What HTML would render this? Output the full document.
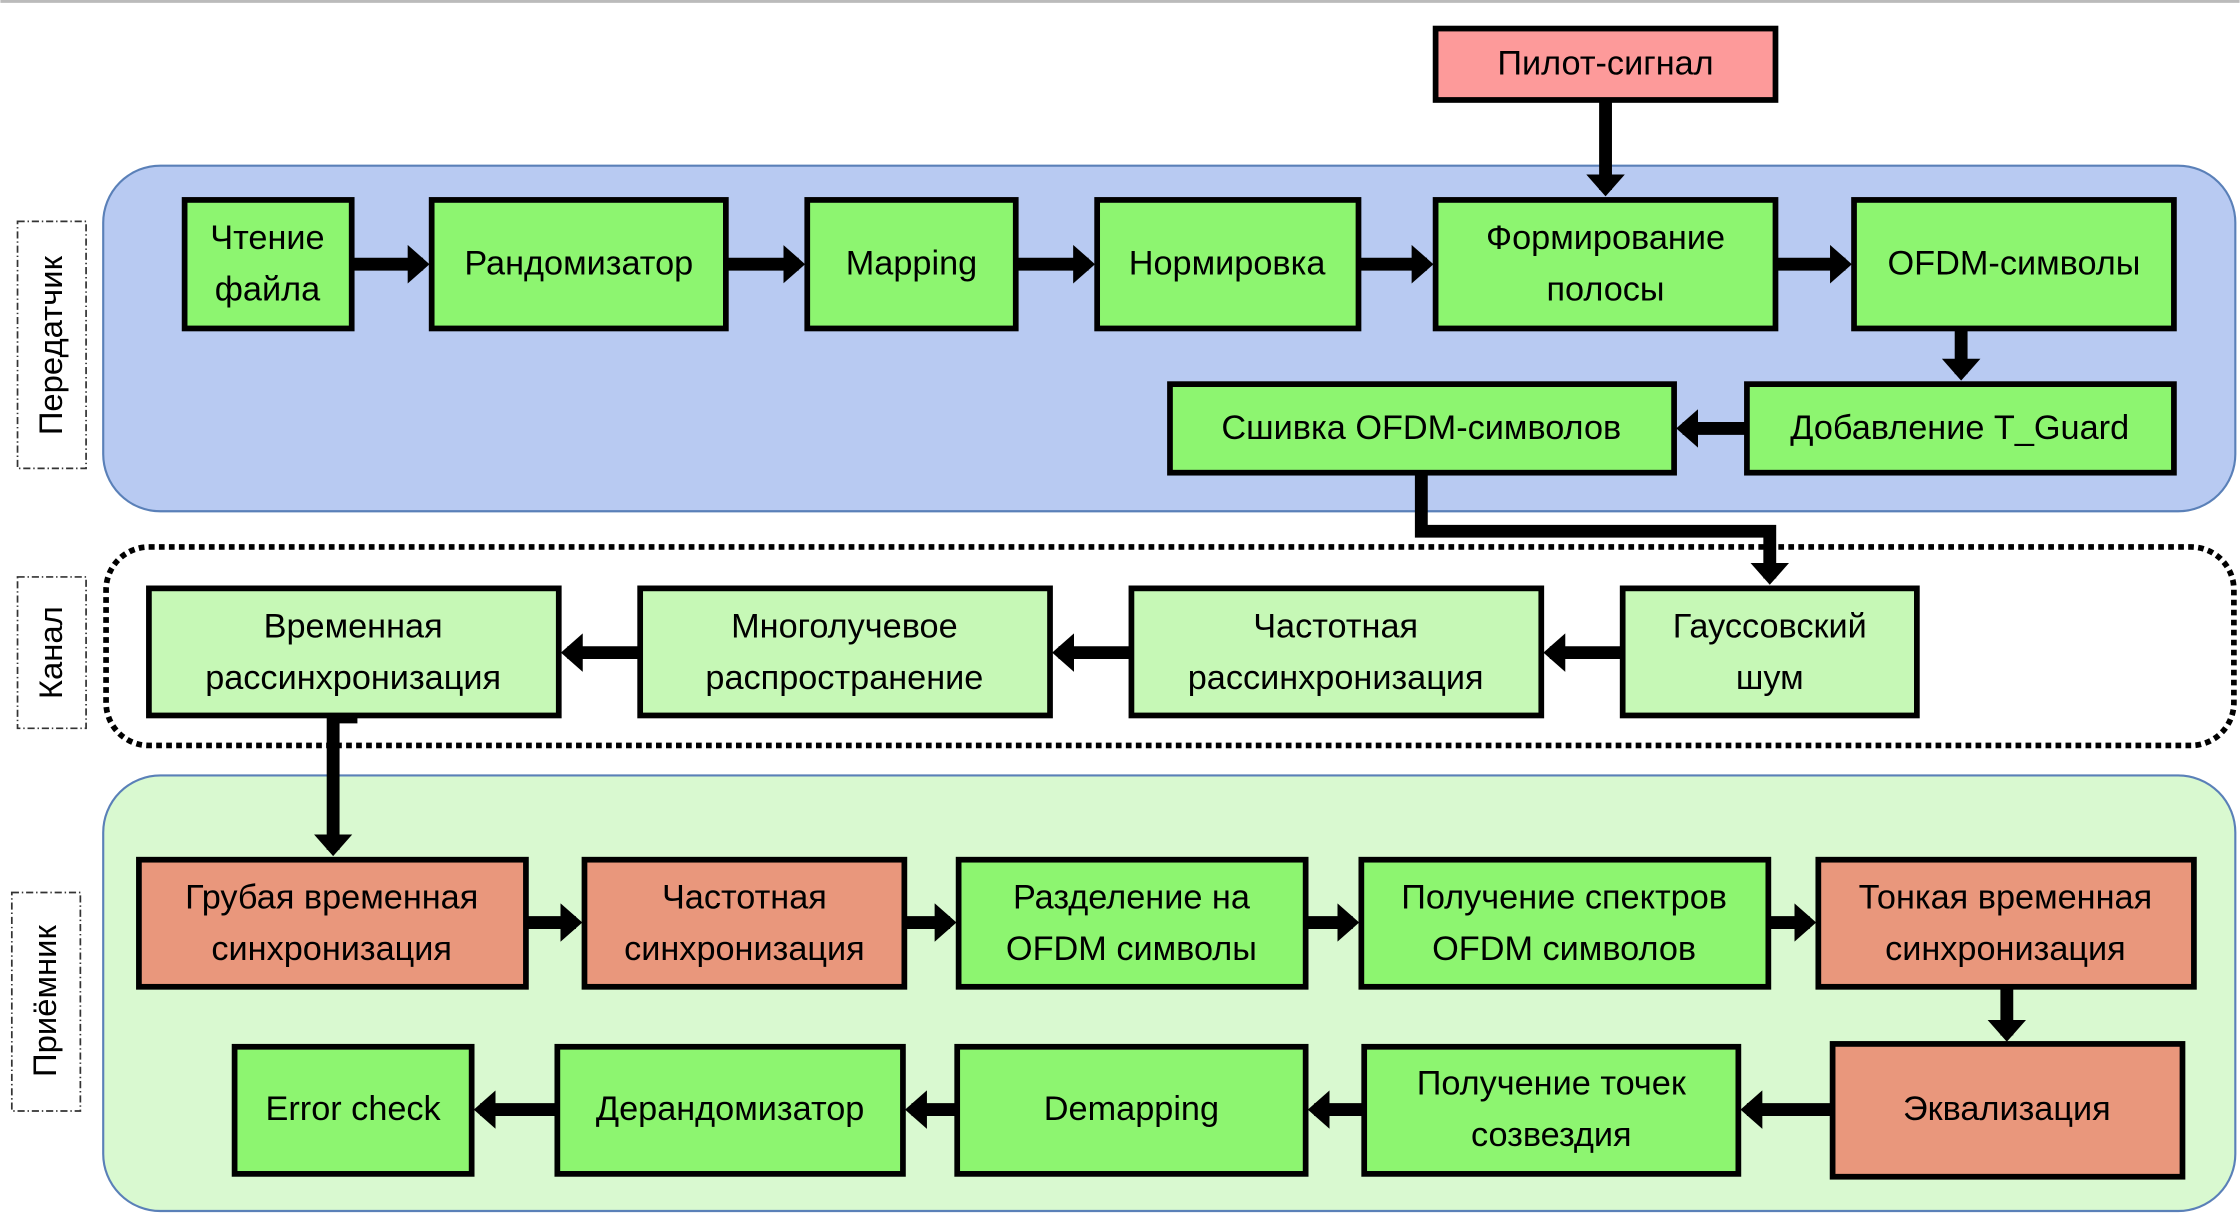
<!DOCTYPE html>
<html><head><meta charset="utf-8"><style>
html,body{margin:0;padding:0;background:#fff;}
svg{display:block}
text{font-family:"Liberation Sans","DejaVu Sans",sans-serif;font-size:24px;fill:#000;text-anchor:middle;dominant-baseline:middle}
.b{stroke:#000;stroke-width:4}
.g{fill:#8df570}.l{fill:#c6f8b6}.s{fill:#e9977c}.p{fill:#fd9a9a}
</style></head><body>
<svg width="2240" height="1221" viewBox="0 0 1568 855" xmlns="http://www.w3.org/2000/svg">
<defs>
<marker id="a" markerWidth="3" markerHeight="3" refX="1.2" refY="1.5" orient="auto" markerUnits="strokeWidth"><path d="M0,0 L1.7,1.5 L0,3z" fill="#000"/></marker>
</defs>
<rect x="0" y="0" width="1568" height="2" fill="#bbb"/>
<rect x="72" y="116" width="1493" height="242" rx="40" fill="#b8caf2" stroke="#5a80b8" stroke-width="1.5"/>
<rect x="74" y="383" width="1490" height="139" rx="30" fill="none" stroke="#000" stroke-width="4" stroke-dasharray="4,3"/>
<rect x="72" y="543" width="1493" height="305" rx="40" fill="#d9f9d0" stroke="#5a80b8" stroke-width="1.5"/>
<rect x="12" y="155" width="48" height="173" fill="none" stroke="#333" stroke-width="1.2" stroke-dasharray="5,2,1,2"/>
<text transform="translate(37,242) rotate(-90)" style="font-size:23px">Передатчик</text>
<rect x="12" y="404" width="48" height="106" fill="none" stroke="#333" stroke-width="1.2" stroke-dasharray="5,2,1,2"/>
<text transform="translate(37,457) rotate(-90)" style="font-size:23px">Канал</text>
<rect x="8" y="625" width="48" height="153" fill="none" stroke="#333" stroke-width="1.2" stroke-dasharray="5,2,1,2"/>
<text transform="translate(33,701) rotate(-90)" style="font-size:23px">Приёмник</text>
<g stroke="#000" stroke-width="9" fill="none" marker-end="url(#a)">
<line x1="1124" y1="70" x2="1124" y2="133"/>
<line x1="246" y1="185" x2="296" y2="185"/>
<line x1="508" y1="185" x2="559" y2="185"/>
<line x1="711" y1="185" x2="762" y2="185"/>
<line x1="951" y1="185" x2="999" y2="185"/>
<line x1="1243" y1="185" x2="1292" y2="185"/>
<line x1="1373" y1="230" x2="1373" y2="262"/>
<line x1="1223" y1="300" x2="1178" y2="300"/>
<polyline points="995,331 995,372 1239,372 1239,405"/>
<line x1="1136" y1="457" x2="1085" y2="457"/>
<line x1="792" y1="457" x2="741" y2="457"/>
<line x1="448" y1="457" x2="397" y2="457"/>
<line x1="233" y1="501" x2="233" y2="595"/>
<line x1="368" y1="646" x2="403" y2="646"/>
<line x1="633" y1="646" x2="665" y2="646"/>
<line x1="914" y1="646" x2="947" y2="646"/>
<line x1="1238" y1="646" x2="1267" y2="646"/>
<line x1="1405" y1="691" x2="1405" y2="725"/>
<line x1="1283" y1="777" x2="1223" y2="777"/>
<line x1="955" y1="777" x2="920" y2="777"/>
<line x1="670" y1="777" x2="638" y2="777"/>
<line x1="390" y1="777" x2="336" y2="777"/>
</g>
<line x1="233" y1="504" x2="250" y2="504" stroke="#000" stroke-width="5"/>
<g class="b">
<rect class="p" x="1005" y="20" width="238" height="50"/>
<rect class="g" x="129" y="140" width="117" height="90"/>
<rect class="g" x="302" y="140" width="206" height="90"/>
<rect class="g" x="565" y="140" width="146" height="90"/>
<rect class="g" x="768" y="140" width="183" height="90"/>
<rect class="g" x="1005" y="140" width="238" height="90"/>
<rect class="g" x="1298" y="140" width="224" height="90"/>
<rect class="g" x="819" y="269" width="353" height="62"/>
<rect class="g" x="1223" y="269" width="299" height="62"/>
<rect class="l" x="104" y="412" width="287" height="89"/>
<rect class="l" x="448" y="412" width="287" height="89"/>
<rect class="l" x="792" y="412" width="287" height="89"/>
<rect class="l" x="1136" y="412" width="206" height="89"/>
<rect class="s" x="97" y="602" width="271" height="89"/>
<rect class="s" x="409" y="602" width="224" height="89"/>
<rect class="g" x="671" y="602" width="243" height="89"/>
<rect class="g" x="953" y="602" width="285" height="89"/>
<rect class="s" x="1273" y="602" width="263" height="89"/>
<rect class="g" x="164" y="733" width="166" height="89"/>
<rect class="g" x="390" y="733" width="242" height="89"/>
<rect class="g" x="670" y="733" width="244" height="89"/>
<rect class="g" x="955" y="733" width="262" height="89"/>
<rect class="s" x="1283" y="731" width="245" height="93"/>
</g>
<text x="1124" y="46">Пилот-сигнал</text>
<text x="187" y="168">Чтение</text><text x="187" y="204">файла</text>
<text x="405" y="186">Рандомизатор</text>
<text x="638" y="186">Mapping</text>
<text x="859" y="186">Нормировка</text>
<text x="1124" y="168">Формирование</text><text x="1124" y="204">полосы</text>
<text x="1410" y="186">OFDM-символы</text>
<text x="995" y="301">Сшивка OFDM-символов</text>
<text x="1372" y="301">Добавление T_Guard</text>
<text x="247" y="440">Временная</text><text x="247" y="476">рассинхронизация</text>
<text x="591" y="440">Многолучевое</text><text x="591" y="476">распространение</text>
<text x="935" y="440">Частотная</text><text x="935" y="476">рассинхронизация</text>
<text x="1239" y="440">Гауссовский</text><text x="1239" y="476">шум</text>
<text x="232" y="630">Грубая временная</text><text x="232" y="666">синхронизация</text>
<text x="521" y="630">Частотная</text><text x="521" y="666">синхронизация</text>
<text x="792" y="630">Разделение на</text><text x="792" y="666">OFDM символы</text>
<text x="1095" y="630">Получение спектров</text><text x="1095" y="666">OFDM символов</text>
<text x="1404" y="630">Тонкая временная</text><text x="1404" y="666">синхронизация</text>
<text x="247" y="778">Error check</text>
<text x="511" y="778">Дерандомизатор</text>
<text x="792" y="778">Demapping</text>
<text x="1086" y="760">Получение точек</text><text x="1086" y="796">созвездия</text>
<text x="1405" y="778">Эквализация</text>
</svg>
</body></html>
